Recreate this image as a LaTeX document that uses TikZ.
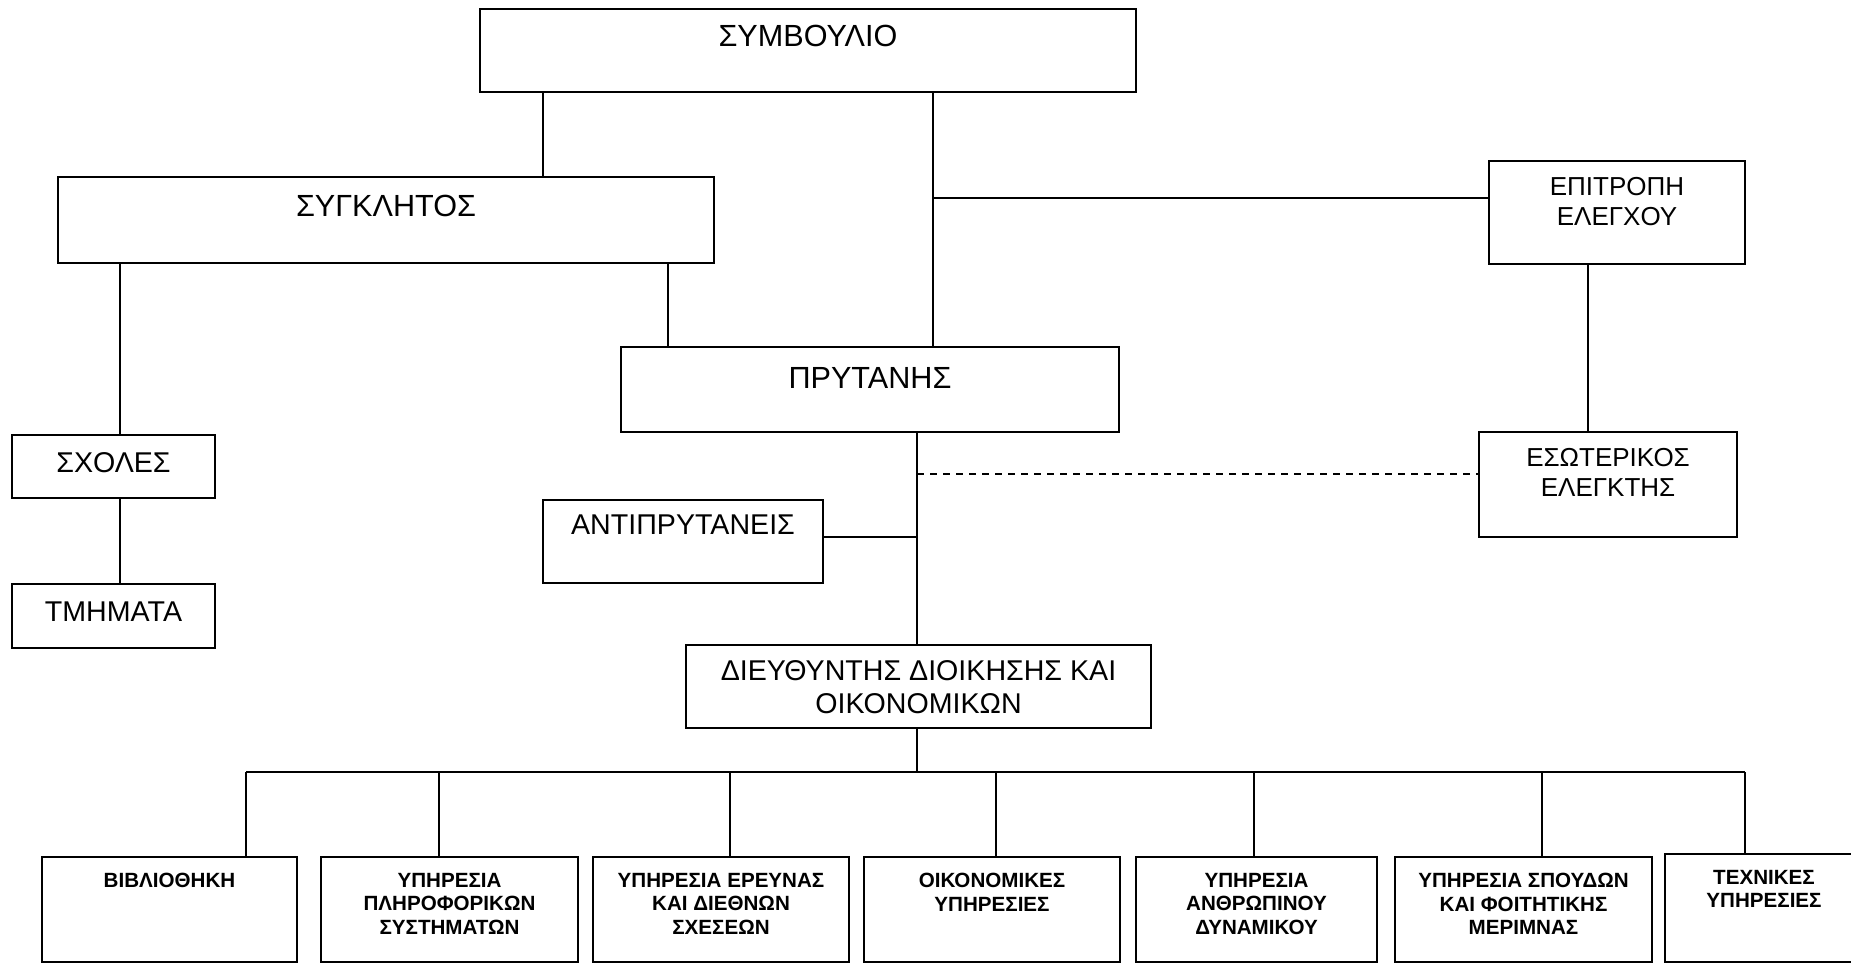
\documentclass[tikz,border=0pt]{standalone}
\usepackage{fontspec}
\setmainfont{Liberation Sans}
\usetikzlibrary{fit}
\newcommand\fbig{\fontsize{15.3}{17}\selectfont}
\newcommand\fmid{\fontsize{14.3}{16.5}\selectfont}
\newcommand\fsml{\fontsize{13}{15}\selectfont}
\newcommand\fbot{\bfseries\fontsize{10.3}{11.85}\selectfont}
\begin{document}
\begin{tikzpicture}[x=0.5pt,y=-0.5pt,
  box/.style={draw, line width=1pt, inner sep=0pt, outer sep=0pt},
  lbl/.style={anchor=north, inner sep=0pt, outer sep=0pt, align=center},
  conn/.style={line width=1pt},
  dconn/.style={line width=1pt, dash pattern=on 3.5pt off 3pt}]
\useasboundingbox (0,0) rectangle (1851,964);
% boxes
\node[box, fit={(480,9) (1136,92)}] (symv) {};
\node[box, fit={(58,177) (714,263)}] (sygk) {};
\node[box, fit={(1489,161) (1745,264)}] (epit) {};
\node[box, fit={(621,347) (1119,432)}] (pryt) {};
\node[box, fit={(12,435) (215,498)}] (sxol) {};
\node[box, fit={(12,584) (215,648)}] (tmim) {};
\node[box, fit={(1479,432) (1737,537)}] (esot) {};
\node[box, fit={(543,500) (823,583)}] (antip) {};
\node[box, fit={(686,645) (1151,728)}] (dieu) {};
\node[box, fit={(42,857) (297,962)}] (b1) {};
\node[box, fit={(321,857) (578,962)}] (b2) {};
\node[box, fit={(593,857) (849,962)}] (b3) {};
\node[box, fit={(864,857) (1120,962)}] (b4) {};
\node[box, fit={(1136,857) (1377,962)}] (b5) {};
\node[box, fit={(1395,857) (1652,962)}] (b6) {};
\node[box, fit={(1665,854) (1863,962)}] (b7) {};
% labels
\node[lbl, font=\fbig] (symv-t) at (symv.north |- 0,25) {ΣΥΜΒΟΥΛΙΟ};
\node[lbl, font=\fbig] (sygk-t) at (sygk.north |- 0,195) {ΣΥΓΚΛΗΤΟΣ};
\node[lbl, font=\fbig] (pryt-t) at (pryt.north |- 0,367) {ΠΡΥΤΑΝΗΣ};
\node[lbl, font=\fsml] (epit-t) at (epit.north |- 0,177) {ΕΠΙΤΡΟΠΗ\\ΕΛΕΓΧΟΥ};
\node[lbl, font=\fsml] (esot-t) at (esot.north |- 0,448) {ΕΣΩΤΕΡΙΚΟΣ\\ΕΛΕΓΚΤΗΣ};
\node[lbl, font=\fmid] (sxol-t) at (sxol.north |- 0,453) {ΣΧΟΛΕΣ};
\node[lbl, font=\fmid] (tmim-t) at (tmim.north |- 0,602) {ΤΜΗΜΑΤΑ};
\node[lbl, font=\fmid] (antip-t) at (antip.north |- 0,515) {ΑΝΤΙΠΡΥΤΑΝΕΙΣ};
\node[lbl, font=\fmid] (dieu-t) at (dieu.north |- 0,661) {ΔΙΕΥΘΥΝΤΗΣ ΔΙΟΙΚΗΣΗΣ ΚΑΙ\\ΟΙΚΟΝΟΜΙΚΩΝ};
\node[lbl, font=\fbot] (b1-t) at (b1.north |- 0,873) {ΒΙΒΛΙΟΘΗΚΗ};
\node[lbl, font=\fbot] (b2-t) at (b2.north |- 0,873) {ΥΠΗΡΕΣΙΑ\\ΠΛΗΡΟΦΟΡΙΚΩΝ\\ΣΥΣΤΗΜΑΤΩΝ};
\node[lbl, font=\fbot] (b3-t) at (b3.north |- 0,873) {ΥΠΗΡΕΣΙΑ ΕΡΕΥΝΑΣ\\ΚΑΙ ΔΙΕΘΝΩΝ\\ΣΧΕΣΕΩΝ};
\node[lbl, font=\fbot] (b4-t) at (b4.north |- 0,873) {ΟΙΚΟΝΟΜΙΚΕΣ\\ΥΠΗΡΕΣΙΕΣ};
\node[lbl, font=\fbot] (b5-t) at (b5.north |- 0,873) {ΥΠΗΡΕΣΙΑ\\ΑΝΘΡΩΠΙΝΟΥ\\ΔΥΝΑΜΙΚΟΥ};
\node[lbl, font=\fbot] (b6-t) at (b6.north |- 0,873) {ΥΠΗΡΕΣΙΑ ΣΠΟΥΔΩΝ\\ΚΑΙ ΦΟΙΤΗΤΙΚΗΣ\\ΜΕΡΙΜΝΑΣ};
\node[lbl, font=\fbot] (b7-t) at (b7.north |- 0,870) {ΤΕΧΝΙΚΕΣ\\ΥΠΗΡΕΣΙΕΣ};
% junction coordinates
\coordinate (j1) at (933,198);
\coordinate (j2) at (917,474);
\coordinate (j3) at (917,537);
\coordinate (bus) at (917,772);
\coordinate (busL) at (246,772);
\coordinate (busR) at (1745,772);
% connectors
\draw[conn] (symv.south -| 543,0) -- (sygk.north -| 543,0);
\draw[conn] (symv.south -| j1) -- (pryt.north -| j1);
\draw[conn] (j1) -- (epit.west |- j1);
\draw[conn] (sygk.south -| 668,0) -- (pryt.north -| 668,0);
\draw[conn] (sygk.south -| 120,0) -- (sxol.north -| 120,0);
\draw[conn] (sxol.south -| 120,0) -- (tmim.north -| 120,0);
\draw[conn] (epit.south -| 1588,0) -- (esot.north -| 1588,0);
\draw[conn] (pryt.south -| bus) -- (dieu.north -| bus);
\draw[dconn] (j2) -- (esot.west |- j2);
\draw[conn] (antip.east |- j3) -- (j3);
\draw[conn] (dieu.south -| bus) -- (bus);
\draw[conn] (busL) -- (busR);
\draw[conn] (busL) -- (b1.north -| busL);
\draw[conn] (busL -| 439,0) -- (b2.north -| 439,0);
\draw[conn] (busL -| 730,0) -- (b3.north -| 730,0);
\draw[conn] (busL -| 996,0) -- (b4.north -| 996,0);
\draw[conn] (busL -| 1254,0) -- (b5.north -| 1254,0);
\draw[conn] (busL -| 1542,0) -- (b6.north -| 1542,0);
\draw[conn] (busR) -- (b7.north -| busR);
\end{tikzpicture}
\end{document}
